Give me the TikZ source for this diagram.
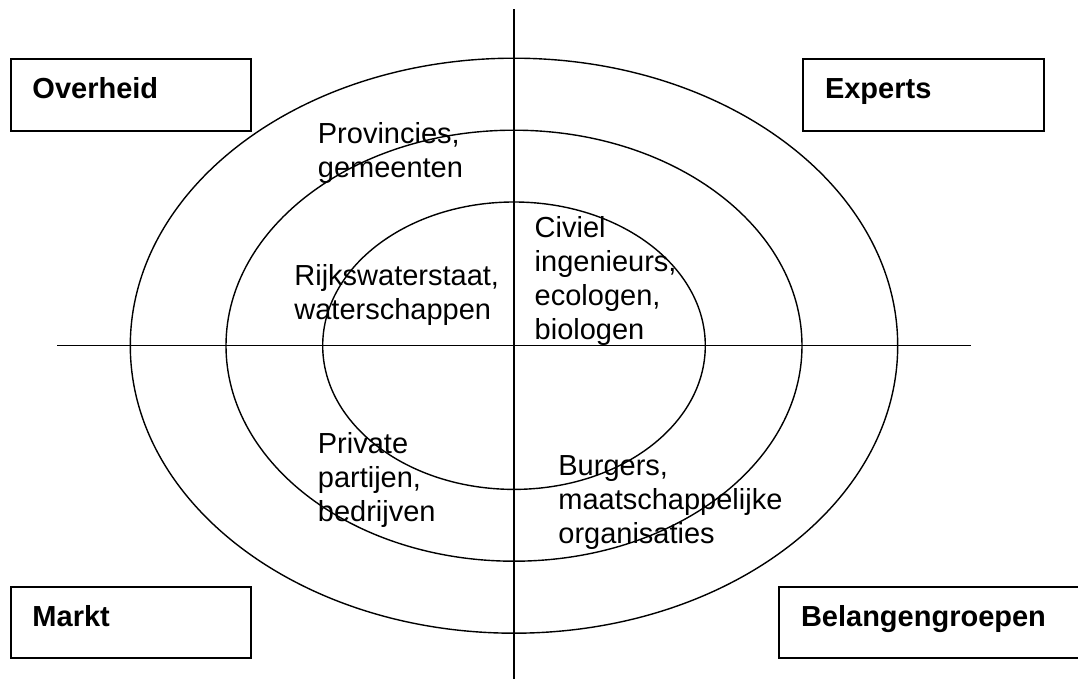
\documentclass[tikz,border=0pt]{standalone}
\usepackage{fontspec}
\setmainfont{Liberation Sans}
\usetikzlibrary{positioning}

\tikzset{
    actor/.style={draw, line width=1pt, rectangle, anchor=north west,
                  inner xsep=11pt, inner ysep=0pt, align=left,
                  text height=19.5pt, text depth=16.25pt,
                  font=\fontsize{14.5}{17}\selectfont\bfseries},
    group/.style={anchor=base west, inner sep=0pt, align=left,
                  font=\fontsize{14.5}{17}\selectfont},
    ring/.style={line width=0.7pt},
    axis/.style={line width=0.7pt}
}

\begin{document}
\begin{tikzpicture}[x=0.5pt, y=-0.5pt]
    \useasboundingbox (0,0) rectangle (1078,679);
    \clip (0,0) rectangle (1078,679);

    \coordinate (ctr) at (514,345.7);
    \coordinate (vtop) at (514,9.3);
    \coordinate (vbot) at (514,679);
    \coordinate (hleft) at (57.3,345.7);
    \coordinate (hright) at (971,345.7);

    \foreach \Rx/\Ry in {191.85/143.75, 144/107.75, 95.65/71.85}
        \draw[ring] (ctr) ellipse [x radius=\Rx pt, y radius=\Ry pt];

    \draw[axis] (vtop) -- (vbot);
    \draw[axis] (hleft) -- (hright);

    \node (overheid) [actor, text width=98.25pt] at (9.5,58.3) {Overheid};
    \node (experts) [actor, text width=98.25pt] at (802,58.3) {Experts};
    \node (markt) [actor, text width=98.25pt] at (9.5,586) {Markt};
    \node (belang) [actor, text width=134pt] at (778,586) {Belangengroepen};

    % base of a multi-line node is its last line
    \node (prov) [group] at (317.5,177.3) {Provincies,\\gemeenten};
    \node (rijk) [group] at (294,320) {Rijkswaterstaat,\\waterschappen};
    \node (civiel) [group] at (534.3,339.7) {Civiel\\ingenieurs,\\ecologen,\\biologen};
    \node (priv) [group] at (317.5,522) {Private\\partijen,\\bedrijven};
    \node (burg) [group] at (558,544) {Burgers,\\maatschappelijke\\organisaties};
\end{tikzpicture}
\end{document}
